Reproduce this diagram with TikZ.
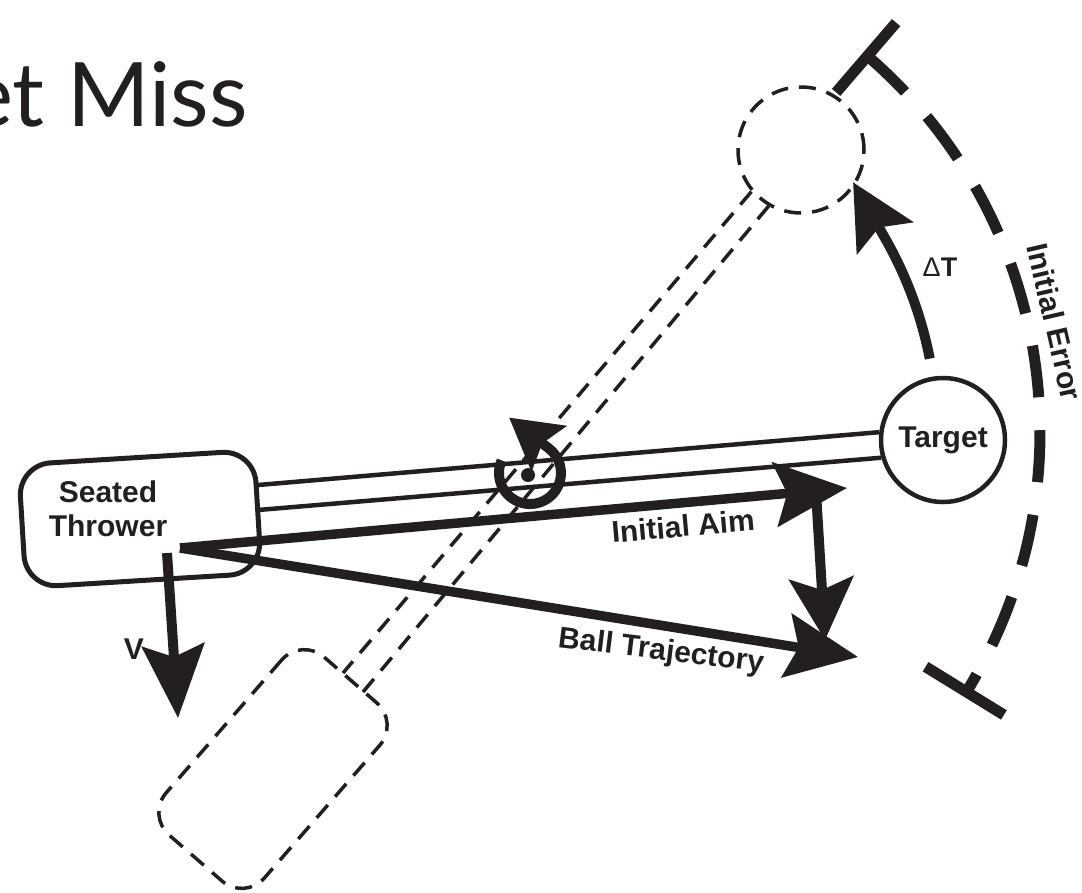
\documentclass[tikz,border=0pt]{standalone}
\usepackage{fontspec}
\setmainfont{Liberation Sans}
\newfontfamily\titlefont{Lato}
\usetikzlibrary{arrows.meta}
\definecolor{ink}{RGB}{35,31,32}
\begin{document}
\begin{tikzpicture}[x=1pt,y=-1pt,color=ink,
  lbl/.style={font=\bfseries\fontsize{30}{34}\selectfont, inner sep=0pt},
  thin line/.style={line width=4.5pt},
  ghostline/.style={line width=3.5pt, dash pattern=on 17pt off 11pt},
  bigarrow/.style={line width=9.5pt, -{Stealth[length=72pt,width=64pt,inset=12pt]}},
  errarc/.style={line width=11pt}]
\useasboundingbox (0,0) rectangle (1082,892);

% title
\node[font=\titlefont\fontsize{89}{96}\selectfont, anchor=base east, inner sep=0pt] (title) at (248,126) {et Miss};

% centres
\coordinate (ctr) at (544,432);
\coordinate (pivc) at (530,473);
\coordinate (dtc) at (542,434);

% boxes and circles
\node[draw, line width=5pt, rounded corners=32pt, minimum width=236pt, minimum height=123pt, rotate=3.5] (thrower) at (140,519) {};
\node[lbl, align=center] (throwertext) at (108,509) {Seated\\Thrower};
\node[draw, ghostline, rounded corners=30pt, minimum width=236pt, minimum height=130pt, rotate=49] (ghostbox) at (273,769) {};
\node[draw, circle, thin line, minimum size=124pt, lbl] (target) at (943,440) {Target};
\node[draw, circle, ghostline, minimum size=126pt] (ghost) at (801,150) {};

% parallel solid lines
\coordinate (s1) at (258,485);
\coordinate (s2) at (258,510);
\draw[thin line] (s1) -- (target.173.5);
\draw[thin line] (s2) -- (target.196.4);

% dashed parallel lines
\coordinate (g1) at (343,673);
\coordinate (g2) at (363,692);
\draw[ghostline] (ghost.220) -- (g1);
\draw[ghostline] (ghost.240) -- (g2);

% pivot with circular arrow
\node[circle, fill, minimum size=14pt, inner sep=0pt] (pivot) at (528,475) {};
\draw[line width=10pt, -{Stealth[length=50pt,width=56pt,inset=8pt]}] (pivc) ++(204:31) arc[start angle=204, end angle=-52, radius=31] -- ++(-40,-31);

% aim and trajectory
\coordinate (hand) at (180,548);
\coordinate (aimtip) at (847,488);
\coordinate (traj) at (858,657);
\draw[bigarrow] (hand) -- (aimtip);
\draw[bigarrow] (hand) -- (traj);
\coordinate (dtop) at (816,492);
\coordinate (dbot) at (825,640);
\draw[line width=10pt, -{Stealth[length=62pt,width=64pt,inset=12pt]}] (dtop) -- (dbot);

\node[lbl, rotate=5] (aimlbl) at (683,526) {Initial Aim};
\node[lbl, rotate=-7] (trajlbl) at (661,652) {Ball Trajectory};

% V arrow
\node[lbl] (vlbl) at (134,649) {V};
\coordinate (vtop) at (167,553);
\coordinate (vtip) at (178,718);
\draw[line width=10pt, -{Stealth[length=73pt,width=62pt,inset=12pt]}] (vtop) -- (vtip);

% delta T arrow
\draw[line width=10pt, -{Stealth[length=64pt,width=64pt,inset=12pt]}] (dtc) ++(-11:395) arc[start angle=-11, end angle=-29.7, radius=395] -- ++(-32,-56);
\node[font=\fontsize{27}{30}\selectfont, inner sep=0pt] (dtlbl) at (940,267) {Δ\textbf{T}};

% initial error arc
\draw[errarc, dash pattern=on 52pt off 33pt] (ctr) ++(-49.3:496) arc[start angle=-49.3, end angle=31.6, radius=496];
\draw[errarc] (ctr) ++(-49.3:448) -- ++(-49.3:92);
\draw[errarc] (ctr) ++(31.6:448) -- ++(31.6:92);
\node[lbl, rotate=-77] (errlbl) at (1055,322) {Initial Error};
\end{tikzpicture}
\end{document}
